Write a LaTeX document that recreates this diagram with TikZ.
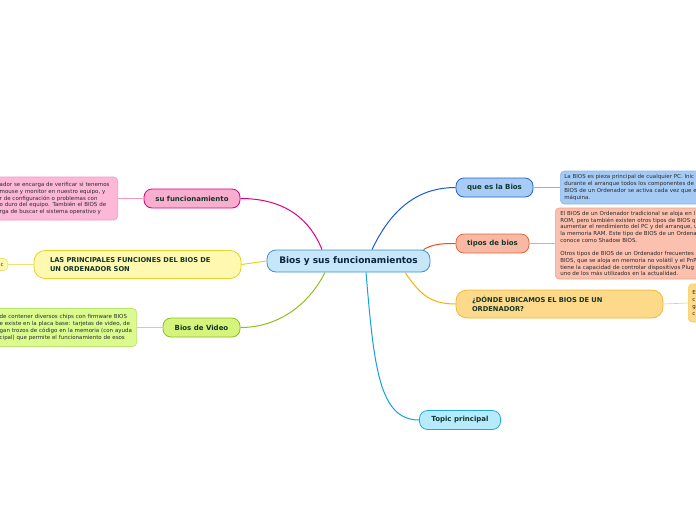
\documentclass[tikz,border=0pt]{standalone}
\usepackage{fontspec}
\setmainfont{DejaVu Sans}

\definecolor{rootfill}{HTML}{C6E7FA}
\definecolor{rootline}{HTML}{3F8FD2}
\definecolor{rootink}{HTML}{0D2340}
\definecolor{ink}{HTML}{16352A}
\definecolor{noteink}{HTML}{2A2A2A}
\definecolor{pinkfill}{HTML}{F8AFCF}
\definecolor{pinkline}{HTML}{E2007A}
\definecolor{pinknote}{HTML}{FDB7D7}
\definecolor{pinkedge}{HTML}{F29AC2}
\definecolor{yelfill}{HTML}{FFF8B0}
\definecolor{yelline}{HTML}{E9D12A}
\definecolor{yeledge}{HTML}{F0E070}
\definecolor{grnfill}{HTML}{D4F47C}
\definecolor{grnline}{HTML}{8EBF1F}
\definecolor{grnnote}{HTML}{DAFB8E}
\definecolor{grnedge}{HTML}{BEE26E}
\definecolor{blufill}{HTML}{A7CCF7}
\definecolor{bluline}{HTML}{2663CA}
\definecolor{blulimb}{HTML}{1B5BCF}
\definecolor{blunote}{HTML}{A5CBF5}
\definecolor{bluedge}{HTML}{8AB6EC}
\definecolor{salfill}{HTML}{F8B9A4}
\definecolor{salline}{HTML}{E8633B}
\definecolor{sallimb}{HTML}{EF4A1F}
\definecolor{salnote}{HTML}{FBC0AE}
\definecolor{saledge}{HTML}{F2A08A}
\definecolor{orgfill}{HTML}{FDD98A}
\definecolor{orgline}{HTML}{F5B72C}
\definecolor{orglimb}{HTML}{F7B200}
\definecolor{orgedge}{HTML}{F8C860}
\definecolor{cyafill}{HTML}{B5EBFC}
\definecolor{cyaline}{HTML}{1FA8E0}
\definecolor{cyalimb}{HTML}{15A1DF}

\begin{document}
\begin{tikzpicture}[
  x=1pt,
  y=-1pt,
  root/.style={draw=rootline, fill=rootfill, line width=0.8pt, rounded corners=9pt, minimum width=163pt, minimum height=22pt, inner sep=0pt, font=\fontsize{9}{11}\selectfont\bfseries, text=rootink},
  topic/.style={line width=0.8pt, rounded corners=8pt, minimum height=19pt, inner sep=0pt, font=\fontsize{7}{8}\selectfont\bfseries, text=ink},
  wide/.style={topic, rounded corners=11pt, minimum height=28pt, minimum width=207pt, text width=175pt, inner xsep=16pt, align=left, font=\fontsize{6.7}{8.2}\selectfont\bfseries},
  note/.style={line width=0.6pt, rounded corners=4pt, inner xsep=4pt, inner ysep=2pt, align=left, font=\fontsize{5.5}{6.7}\selectfont, text=noteink},
  limb/.style={line width=1pt},
  twig/.style={line width=0.6pt}
]
\useasboundingbox (0,0) rectangle (696,520);
\clip (0,0) rectangle (696,520);

% central topic
\node[root] (bios) at (348.5,261) {Bios y sus funcionamientos};

% main topics
\node[topic, draw=pinkline, fill=pinkfill, minimum width=96pt] (sufun) at (192,198.5) {su funcionamiento};
\node[wide, draw=yelline, fill=yelfill] (principales) at (137.5,264.5) {LAS PRINCIPALES FUNCIONES DEL BIOS DE\\UN ORDENADOR SON};
\node[topic, draw=grnline, fill=grnfill, minimum width=77pt] (video) at (201.5,327.5) {Bios de Video};
\node[topic, draw=bluline, fill=blufill, minimum width=77pt] (quees) at (494.5,187.5) {que es la Bios};
\node[topic, draw=salline, fill=salfill, minimum width=73pt] (tipos) at (492.5,243.5) {tipos de bios};
\node[wide, draw=orgline, fill=orgfill] (donde) at (559.5,304) {¿DÓNDE UBICAMOS EL BIOS DE UN\\ORDENADOR?};
\node[topic, draw=cyaline, fill=cyafill, minimum width=81pt] (topico) at (460,420) {Topic principal};

% notes
\node[note, draw=pinkedge, fill=pinknote, text width=114pt, minimum height=43pt, anchor=east] (funnote) at (118,198.5) {ador se encarga de verificar si tenemos\\mouse y monitor en nuestro equipo, y\\r de configuración o problemas con\\o duro del equipo. También el BIOS de\\rga de buscar el sistema operativo y};
\node[note, draw=yeledge, fill=yelfill, text width=24pt, minimum height=12pt, align=right, anchor=east] (princnote) at (8,264.5) {c};
\node[note, draw=grnedge, fill=grnnote, text width=133pt, minimum height=38pt, anchor=east] (videonote) at (137,327.5) {de contener diversos chips con firmware BIOS\\e existe en la placa base: tarjetas de video, de\\gan trozos de código en la memoria (con ayuda\\cipal) que permite el funcionamiento de esos};
\node[note, draw=bluedge, fill=blunote, text width=146pt, minimum height=33pt, anchor=west] (queesnote) at (560,187.5) {La BIOS es pieza principal de cualquier PC. Inic\\durante el arranque todos los componentes de l\\BIOS de un Ordenador se activa cada vez que e\\máquina.};
\node[note, draw=saledge, fill=salnote, inner xsep=5pt, text width=146pt, minimum height=71pt, anchor=west] (tiposnote) at (555,243.5) {El BIOS de un Ordenador tradicional se aloja en l\\ROM, pero también existen otros tipos de BIOS q\\aumentar el rendimiento del PC y del arranque, u\\la memoria RAM. Este tipo de BIOS de un Ordena\\conoce como Shadow BIOS.\\[6.7pt]Otros tipos de BIOS de un Ordenador frecuentes\\BIOS, que se aloja en memoria no volátil y el PnP\\tiene la capacidad de controlar dispositivos Plug\\uno de los más utilizados en la actualidad.};
\node[note, draw=orgedge, fill=orgfill, text width=30pt, minimum height=38pt, anchor=west] (dondenote) at (688,303) {E\\c\\g\\c};

% branches
\draw[limb, pinkline] ([xshift=-26.5pt]bios.north) .. controls +(-12,-30) and +(45,0) .. (sufun.east);
\draw[limb, yelline] (bios.west) -- (principales.east);
\draw[limb, grnline] ([xshift=-23.5pt]bios.south) .. controls +(-15,30) and +(40,0) .. (video.east);
\draw[limb, blulimb] ([xshift=23.5pt]bios.north) .. controls +(18,-38) and +(-40,0) .. (quees.west);
\draw[limb, sallimb] ([xshift=75pt]bios.north) .. controls +(10,-6) and +(-12,0) .. (tipos.west);
\draw[limb, orglimb] ([xshift=56.5pt]bios.south) .. controls +(15,22) and +(-25,0) .. (donde.west);
\draw[limb, cyalimb] ([xshift=17.5pt]bios.south) .. controls +(8,95) and +(-40,0) .. (topico.west);

\draw[twig, pinkedge] (funnote.east) -- (sufun.west);
\draw[twig, yeledge] (princnote.east) -- (principales.west);
\draw[twig, grnedge] (videonote.east) -- (video.west);
\draw[twig, bluedge] (quees.east) -- (queesnote.west);
\draw[twig, saledge] (tipos.east) -- (tiposnote.west);
\draw[twig, orgedge] (donde.east) -- (dondenote.west);
\end{tikzpicture}
\end{document}
